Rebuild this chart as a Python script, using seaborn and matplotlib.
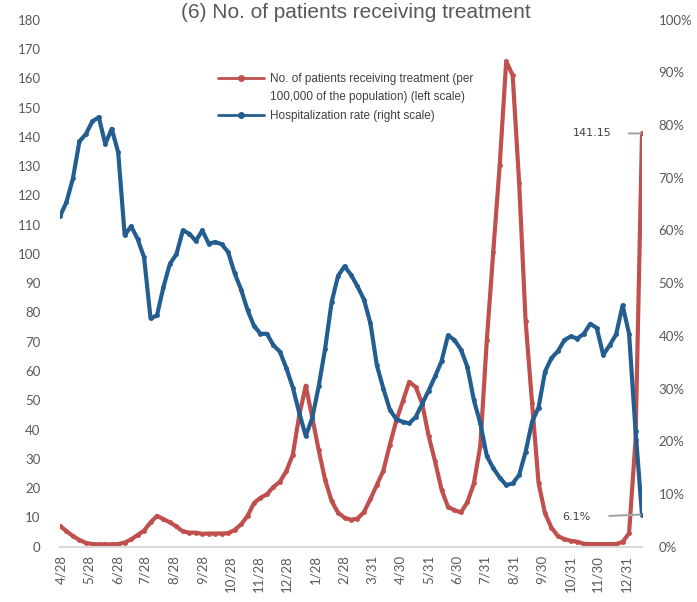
import pandas as pd
import seaborn as sns
import matplotlib.pyplot as plt
from matplotlib.lines import Line2D

# Weekly data
patients = [7.1, 5.3, 3.6, 2.3, 1.3, 0.9, 0.8, 0.8, 0.8, 0.9,
            1.4, 2.5, 4.0, 5.5, 8.3, 10.5, 9.4, 8.3, 6.9, 5.2,
            4.8, 4.8, 4.4, 4.5, 4.5, 4.5, 4.6, 5.7, 7.6, 10.5,
            14.9, 16.7, 17.9, 20.4, 22.2, 25.8, 31.4, 44.9, 55.0, 44.2,
            33.0, 22.8, 15.6, 11.6, 9.9, 9.2, 9.6, 11.8, 16.3, 21.1,
            26.0, 34.8, 43.0, 49.6, 56.3, 54.5, 48.9, 37.9, 29.1, 19.5,
            13.6, 12.5, 11.7, 15.2, 21.6, 34.5, 70.5, 100.8, 130.5, 165.8,
            161.0, 124.3, 77.0, 49.0, 21.8, 11.4, 6.5, 3.6, 2.6, 2.0,
            1.7, 1.0, 0.9, 0.9, 0.9, 0.9, 0.9, 1.6, 4.6, 36.5,
            141.15]
hosp_rate = [62.7, 65.4, 69.9, 76.9, 78.3, 80.7, 81.5, 76.4, 79.3, 74.8,
             59.1, 60.8, 58.4, 54.9, 43.3, 43.9, 49.3, 53.7, 55.5, 60.0,
             59.4, 58.0, 60.0, 57.5, 57.8, 57.4, 55.9, 51.9, 48.8, 44.9,
             41.9, 40.4, 40.4, 38.2, 37.0, 33.9, 30.2, 25.4, 21.0, 24.4,
             30.4, 37.6, 46.4, 51.4, 53.2, 51.6, 49.4, 46.9, 42.4, 34.4,
             30.0, 26.0, 24.2, 23.7, 23.4, 24.6, 27.1, 29.6, 32.3, 35.2,
             40.1, 39.2, 37.4, 34.1, 27.8, 23.4, 17.2, 14.9, 13.1, 11.7,
             12.0, 13.6, 18.0, 23.7, 26.4, 33.2, 35.8, 37.1, 39.2, 39.9,
             39.5, 40.4, 42.3, 41.5, 36.4, 38.2, 40.3, 45.8, 40.4, 22.0,
             6.1]
tick_dates = ["2020-04-28", "2020-05-28", "2020-06-28", "2020-07-28", "2020-08-28",
              "2020-09-28", "2020-10-28", "2020-11-28", "2020-12-28", "2021-01-28",
              "2021-02-28", "2021-03-31", "2021-04-30", "2021-05-31", "2021-06-30",
              "2021-07-31", "2021-08-31", "2021-09-30", "2021-10-31", "2021-11-30",
              "2021-12-31"]
tick_labels = ["4/28", "5/28", "6/28", "7/28", "8/28", "9/28", "10/28", "11/28",
               "12/28", "1/28", "2/28", "3/31", "4/30", "5/31", "6/30", "7/31",
               "8/31", "9/30", "10/31", "11/30", "12/31"]

RED = "#c0504d"
BLUE = "#245e91"
GREY_TXT = "#595959"

weeks = pd.date_range("2020-04-27", periods=len(patients), freq="7D")
df = pd.DataFrame({"week": weeks, "patients": patients, "hosp": hosp_rate})

sns.set_theme(style="white")
plt.rcParams["font.family"] = ["Liberation Sans", "DejaVu Sans"]

fig = plt.figure(figsize=(6.97, 6.02), dpi=100)
ax = fig.add_axes([0.0861, 0.0919, 0.835, 0.8754])
ax2 = ax.twinx()

sns.lineplot(data=df, x="week", y="patients", ax=ax, color=RED, lw=3,
             marker="o", markersize=3.5, markeredgewidth=0)
sns.lineplot(data=df, x="week", y="hosp", ax=ax2, color=BLUE, lw=3,
             marker="o", markersize=3.5, markeredgewidth=0)

ax.set_xlim(weeks[0], weeks[-1])
ax.set_ylim(0, 180)
ax2.set_ylim(0, 100)
ax.set_yticks(range(0, 181, 10))
ax2.set_yticks(range(0, 101, 10))
ax2.set_yticklabels([f"{v}%" for v in range(0, 101, 10)])
ax.set_xticks(pd.to_datetime(tick_dates))
ax.set_xticklabels(tick_labels, rotation=90)

for a in (ax, ax2):
    a.set_xlabel("")
    a.set_ylabel("")
    for s in a.spines.values():
        s.set_visible(False)
ax.spines["bottom"].set_visible(True)
ax.spines["bottom"].set_color("#d9d9d9")
ax.spines["bottom"].set_linewidth(1.5)

ax.tick_params(axis="y", length=0, pad=14, labelsize=9.5, labelcolor=GREY_TXT)
ax2.tick_params(axis="y", length=0, pad=12, labelsize=9.5, labelcolor=GREY_TXT)
ax.tick_params(axis="x", length=0, pad=6, labelsize=9.5, labelcolor=GREY_TXT)
for lab in ax.get_yticklabels() + ax2.get_yticklabels() + ax.get_xticklabels():
    lab.set_family(["Lato", "DejaVu Sans"])

# end-point labels
ax.annotate("141.15", xy=(weeks[-1], patients[-1]), xytext=(-22, 0),
            textcoords="offset points", ha="right", va="center",
            fontsize=8, color="#404040", family="DejaVu Sans",
            arrowprops=dict(arrowstyle="-", color="#a6a6a6", lw=1.5,
                            shrinkA=10, shrinkB=1))
ax2.annotate("6.1%", xy=(weeks[-1], hosp_rate[-1]), xytext=(-37, -2),
             textcoords="offset points", ha="right", va="center",
             fontsize=8, color="#404040", family="DejaVu Sans",
             arrowprops=dict(arrowstyle="-", color="#a6a6a6", lw=1.5,
                             shrinkA=11, shrinkB=1))

# legend: first label split in two rows so the marker sits on the first line
handles = [Line2D([0], [0], color=RED, lw=2, marker="o", markersize=4),
           Line2D([0], [0], color="none"),
           Line2D([0], [0], color=BLUE, lw=2, marker="o", markersize=4)]
labels = ["No. of patients receiving treatment (per",
          "100,000 of the population) (left scale)",
          "Hospitalization rate (right scale)"]
fig.legend(handles, labels, loc="upper left", bbox_to_anchor=(218 / 697, 1 - 73 / 602),
           frameon=False, fontsize=8.5, handlelength=3.9, handletextpad=0.5,
           labelspacing=0.55, borderpad=0, borderaxespad=0, labelcolor="#404040")

# title sits right at the top edge, as in the reference
fig.text(0.51, 1 - 18 / 602, "(6) No. of patients receiving treatment",
         ha="center", va="baseline", fontsize=15, color=GREY_TXT)

fig.savefig("out.png", dpi=100)
